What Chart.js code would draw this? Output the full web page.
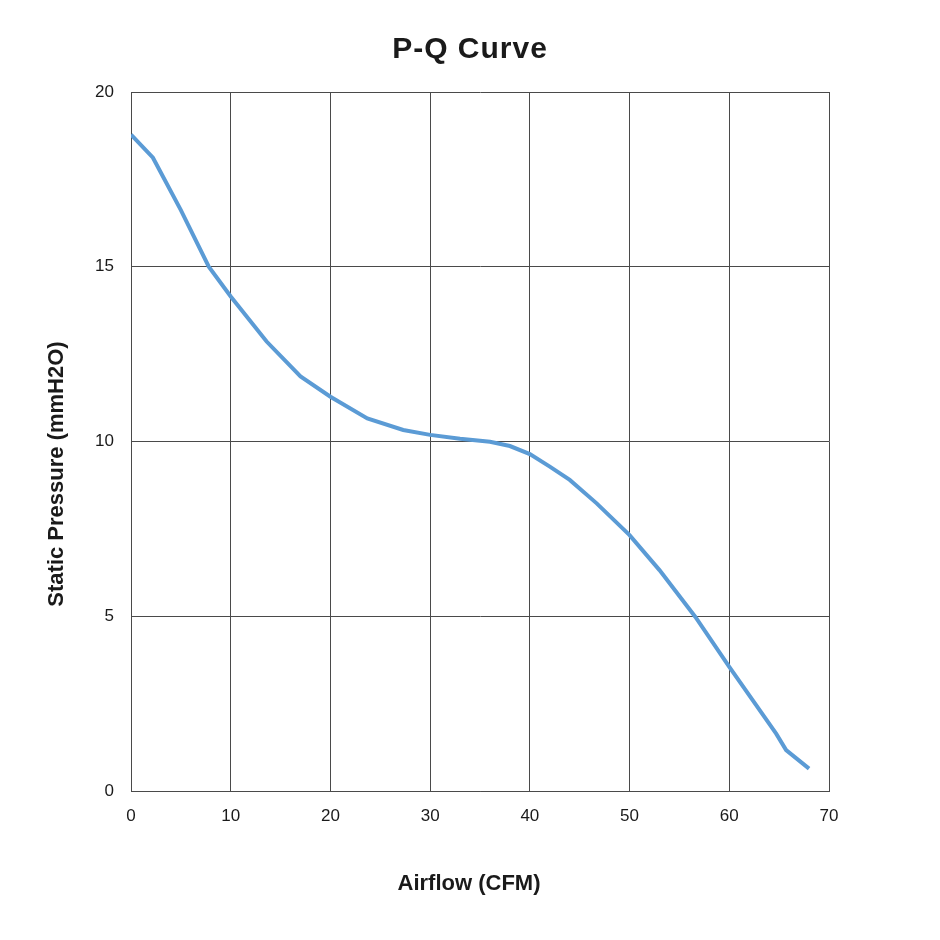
<!DOCTYPE html>
<html>
<head>
<meta charset="utf-8">
<script src="https://cdn.jsdelivr.net/npm/chart.js@4/dist/chart.umd.min.js"></script>
<style>
  html, body { margin: 0; padding: 0; background: #ffffff; }
  #wrap { width: 940px; height: 940px; }
</style>
</head>
<body>
<div id="wrap"><canvas id="c" width="940" height="940"></canvas></div>
<script>
const chartTitle = "P-Q Curve";
const xAxisTitle = "Airflow (CFM)";
const yAxisTitle = "Static Pressure (mmH2O)";
const airflow = [0, 2.2, 5, 7.8, 10, 13.6, 17, 20, 23.7, 27.3, 30, 33, 36, 38, 40, 42, 44, 46.7, 50, 53, 56.6, 60, 64.7, 65.7, 68];
const pressure = [18.78, 18.12, 16.62, 15.0, 14.15, 12.86, 11.86, 11.28, 10.66, 10.33, 10.19, 10.08, 9.99, 9.87, 9.64, 9.28, 8.9, 8.23, 7.32, 6.32, 4.98, 3.55, 1.64, 1.17, 0.64];
const xTicks = [0, 10, 20, 30, 40, 50, 60, 70];
const yTicks = [0, 5, 10, 15, 20];

const points = airflow.map((x, i) => ({ x: x, y: pressure[i] }));
const FONT = "'Liberation Sans', Arial, sans-serif";
const TEXT = "#1a1a1a";
const GRID = "#4a4a4a";

// Draws the chart title and the two axis titles centred on the canvas.
const titlesPlugin = {
  id: 'titles',
  afterDraw(chart) {
    const ctx = chart.ctx;
    const W = chart.width;
    ctx.save();
    ctx.fillStyle = TEXT;
    ctx.textAlign = 'center';
    ctx.textBaseline = 'alphabetic';

    ctx.font = "bold 30px " + FONT;
    if ('letterSpacing' in ctx) ctx.letterSpacing = '1px';
    ctx.fillText(chartTitle, W / 2, 58);
    if ('letterSpacing' in ctx) ctx.letterSpacing = '0px';

    ctx.font = "bold 22px " + FONT;
    ctx.fillText(xAxisTitle, W / 2 - 1, 890);

    ctx.translate(63, 474);
    ctx.rotate(-Math.PI / 2);
    ctx.fillText(yAxisTitle, 0, 0);
    ctx.restore();
  }
};

new Chart(document.getElementById('c'), {
  type: 'line',
  data: {
    datasets: [{
      data: points,
      borderColor: '#5b9bd5',
      borderWidth: 4,
      pointRadius: 0,
      tension: 0,
      fill: false
    }]
  },
  plugins: [titlesPlugin],
  options: {
    responsive: false,
    animation: false,
    layout: { padding: { left: 0, right: 111, top: 92, bottom: 0 } },
    plugins: {
      legend: { display: false },
      tooltip: { enabled: false },
      title: { display: false }
    },
    scales: {
      x: {
        type: 'linear',
        min: 0, max: 70,
        afterBuildTicks: (s) => { s.ticks = xTicks.map(v => ({ value: v })); },
        afterFit: (s) => { s.height = 149; },
        ticks: { color: TEXT, font: { family: FONT, size: 17 }, padding: 15 },
        grid: { color: GRID, lineWidth: 1, drawTicks: false },
        border: { color: GRID, width: 1 }
      },
      y: {
        type: 'linear',
        min: 0, max: 20,
        afterBuildTicks: (s) => { s.ticks = yTicks.map(v => ({ value: v })); },
        afterFit: (s) => { s.width = 131; },
        ticks: { color: TEXT, font: { family: FONT, size: 17 }, padding: 17 },
        grid: { color: GRID, lineWidth: 1, drawTicks: false },
        border: { color: GRID, width: 1 }
      }
    }
  }
});
</script>
</body>
</html>
